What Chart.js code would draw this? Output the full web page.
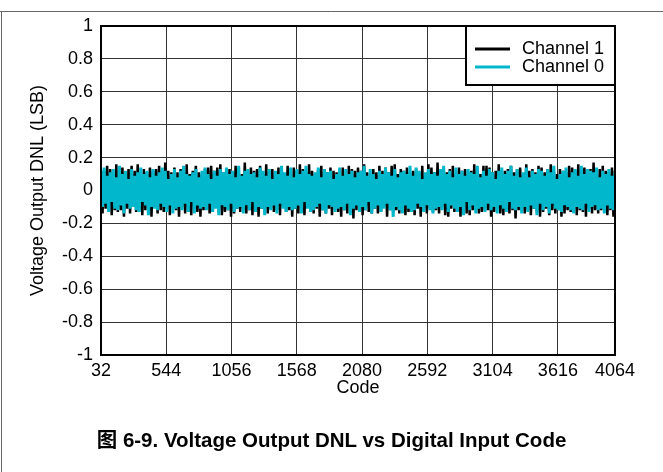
<!DOCTYPE html>
<html>
<head>
<meta charset="utf-8">
<script src="https://cdn.jsdelivr.net/npm/chart.js@4.4.0/dist/chart.umd.min.js"></script>
<style>
html,body{margin:0;padding:0;background:#fff}
#wrap{position:relative;width:663px;height:472px;overflow:hidden}
#c{position:absolute;left:0;top:0}
#caption{position:absolute;left:0;width:663px;top:423px;line-height:24px;text-align:center;font:bold 20.5px "Liberation Sans",Arial,"Noto Sans CJK SC",sans-serif;color:#000}
</style>
</head>
<body>
<div id="wrap">
<canvas id="c" width="663" height="472"></canvas>
<div id="caption">图 6-9. Voltage Output DNL vs Digital Input Code</div>
</div>
<script>
// x ticks / y ticks
const xTicks=[32,544,1056,1568,2080,2592,3104,3616,4064];
const yTicks=[-1,-0.8,-0.6,-0.4,-0.2,0,0.2,0.4,0.6,0.8,1];
const yTickLabels=['-1','-0.8','-0.6','-0.4','-0.2','0','0.2','0.4','0.6','0.8','1'];
const seriesNames=['Channel 1','Channel 0'];
const codeStart=32, codeStep=12;
// DNL, one sample every 12 codes
const ch1=[0.10,-0.14,0.12,-0.11,0.15,-0.10,0.13,-0.15,0.09,-0.12,0.16,-0.13,
0.11,-0.12,0.14,-0.16,0.10,-0.11,0.13,-0.14,0.15,-0.10,0.12,-0.13,
0.16,-0.11,0.09,-0.15,0.13,-0.12,0.11,-0.10,0.14,-0.16,0.12,-0.09,
0.13,-0.14,0.15,-0.12,0.10,-0.13,0.17,-0.11,0.12,-0.15,0.11,-0.10,
0.14,-0.12,0.11,-0.16,0.13,-0.10,0.12,-0.14,0.16,-0.13,0.10,-0.15,
0.12,-0.11,0.15,-0.13,0.11,-0.16,0.10,-0.12,0.13,-0.11,0.14,-0.14,
0.15,-0.13,0.12,-0.10,0.14,-0.12,0.16,-0.15,0.11,-0.13,0.09,-0.12,
0.13,-0.16,0.11,-0.14,0.15,-0.11,0.12,-0.13,0.10,-0.12,0.17,-0.14,
0.11,-0.12,0.14,-0.15,0.12,-0.10,0.13,-0.16,0.15,-0.11,0.10,-0.13,
0.16,-0.14,0.12,-0.11,0.13,-0.13,0.11,-0.12,0.14,-0.15,0.12,-0.10,
0.10,-0.13,0.15,-0.12,0.11,-0.16,0.14,-0.11,0.12,-0.14,0.16,-0.12,
0.13,-0.15,0.11,-0.10,0.16,-0.13,0.12,-0.14,0.10,-0.11,0.13,-0.16,
0.15,-0.12,0.13,-0.14,0.11,-0.11,0.14,-0.15,0.12,-0.10,0.11,-0.13,
0.12,-0.16,0.14,-0.12,0.10,-0.14,0.15,-0.11,0.13,-0.17,0.12,-0.12,
0.14,-0.11,0.12,-0.15,0.16,-0.12,0.11,-0.13,0.10,-0.14,0.13,-0.11,
0.11,-0.14,0.15,-0.13,0.12,-0.10,0.14,-0.16,0.11,-0.12,0.15,-0.13,
0.16,-0.12,0.10,-0.14,0.13,-0.11,0.12,-0.15,0.14,-0.13,0.11,-0.12,
0.12,-0.15,0.13,-0.11,0.11,-0.16,0.15,-0.12,0.10,-0.14,0.16,-0.11,
0.14,-0.13,0.11,-0.12,0.17,-0.14,0.12,-0.10,0.13,-0.15,0.11,-0.16,
0.13,-0.11,0.15,-0.13,0.10,-0.12,0.14,-0.16,0.12,-0.11,0.13,-0.14,
0.11,-0.15,0.12,-0.12,0.16,-0.11,0.13,-0.14,0.10,-0.13,0.15,-0.12,
0.15,-0.12,0.14,-0.16,0.11,-0.13,0.12,-0.11,0.16,-0.14,0.10,-0.15,
0.12,-0.11,0.13,-0.14,0.15,-0.12,0.11,-0.17,0.13,-0.12,0.14,-0.11,
0.10,-0.14,0.16,-0.12,0.12,-0.15,0.13,-0.11,0.11,-0.13,0.15,-0.16,
0.14,-0.13,0.11,-0.11,0.13,-0.15,0.16,-0.12,0.12,-0.14,0.10,-0.12,
0.13,-0.16,0.12,-0.14,0.11,-0.12,0.15,-0.13,0.14,-0.11,0.12,-0.15,
0.16,-0.12,0.10,-0.13,0.14,-0.16,0.12,-0.11,0.13,-0.14,0.17,-0.12,
0.11,-0.14,0.13,-0.12,0.15,-0.13,0.12,-0.15,0.11,-0.12,0.14,-0.16,
0.12];
const ch0=[0.12,-0.10,0.14,-0.08,0.09,-0.13,0.11,-0.07,0.13,-0.11,0.08,-0.12,
0.15,-0.09,0.10,-0.14,0.12,-0.08,0.07,-0.11,0.13,-0.10,0.09,-0.12,
0.11,-0.13,0.14,-0.07,0.10,-0.09,0.12,-0.15,0.08,-0.10,0.13,-0.11,
0.09,-0.12,0.11,-0.08,0.14,-0.10,0.12,-0.13,0.07,-0.09,0.10,-0.14,
0.13,-0.11,0.08,-0.10,0.12,-0.12,0.15,-0.08,0.10,-0.13,0.09,-0.07,
0.11,-0.14,0.13,-0.09,0.08,-0.11,0.12,-0.10,0.14,-0.12,0.10,-0.08,
0.07,-0.13,0.12,-0.11,0.09,-0.15,0.13,-0.09,0.11,-0.10,0.14,-0.12,
0.10,-0.08,0.12,-0.13,0.08,-0.11,0.15,-0.10,0.09,-0.14,0.12,-0.09,
0.13,-0.12,0.10,-0.07,0.11,-0.13,0.08,-0.10,0.14,-0.11,0.12,-0.15,
0.09,-0.10,0.13,-0.12,0.07,-0.09,0.12,-0.14,0.10,-0.08,0.15,-0.11,
0.11,-0.13,0.09,-0.10,0.14,-0.12,0.08,-0.11,0.13,-0.09,0.10,-0.14,
0.12,-0.07,0.15,-0.11,0.10,-0.13,0.09,-0.12,0.11,-0.10,0.14,-0.08,
0.08,-0.12,0.13,-0.14,0.11,-0.09,0.12,-0.10,0.07,-0.13,0.10,-0.11,
0.14,-0.10,0.09,-0.12,0.13,-0.08,0.10,-0.15,0.12,-0.11,0.08,-0.09,
0.11,-0.13,0.12,-0.10,0.15,-0.12,0.09,-0.07,0.13,-0.14,0.10,-0.11,
0.07,-0.09,0.12,-0.13,0.10,-0.11,0.14,-0.08,0.11,-0.12,0.09,-0.16,
0.13,-0.10,0.08,-0.12,0.11,-0.14,0.12,-0.09,0.10,-0.11,0.15,-0.13,
0.09,-0.12,0.14,-0.08,0.12,-0.10,0.07,-0.13,0.11,-0.09,0.13,-0.12,
0.10,-0.14,0.11,-0.11,0.09,-0.10,0.13,-0.12,0.15,-0.08,0.10,-0.13,
0.12,-0.09,0.08,-0.11,0.14,-0.13,0.10,-0.10,0.12,-0.15,0.09,-0.07,
0.13,-0.12,0.11,-0.09,0.10,-0.14,0.15,-0.11,0.08,-0.10,0.12,-0.13,
0.09,-0.08,0.13,-0.12,0.11,-0.10,0.07,-0.14,0.12,-0.09,0.14,-0.11,
0.10,-0.13,0.12,-0.07,0.15,-0.11,0.09,-0.12,0.13,-0.10,0.08,-0.14,
0.11,-0.10,0.14,-0.13,0.08,-0.09,0.12,-0.11,0.10,-0.15,0.13,-0.08,
0.12,-0.12,0.09,-0.10,0.13,-0.14,0.11,-0.08,0.15,-0.11,0.07,-0.12,
0.10,-0.13,0.12,-0.09,0.14,-0.10,0.08,-0.12,0.11,-0.14,0.13,-0.10,
0.09,-0.11,0.15,-0.12,0.10,-0.08,0.13,-0.13,0.12,-0.10,0.11,-0.09,
0.14,-0.12,0.08,-0.11,0.12,-0.14,0.10,-0.09,0.13,-0.11,0.09,-0.12,
0.11];
const colors=['#000000','#00b7cc'];
const widths=[2.5,3];

const FONT='"Liberation Sans", Arial, sans-serif';
const toPts=arr=>arr.map((v,i)=>({x:codeStart+i*codeStep,y:v}));

// page frame + legend box + plot border
const decor={
  id:'decor',
  beforeDraw(chart){
    const ctx=chart.ctx;
    ctx.save();
    ctx.strokeStyle='#666';ctx.lineWidth=1;
    ctx.beginPath();ctx.moveTo(0,11.5);ctx.lineTo(663,11.5);
    ctx.moveTo(1.5,11);ctx.lineTo(1.5,472);ctx.stroke();
    ctx.restore();
  },
  afterDraw(chart){
    const ctx=chart.ctx,a=chart.chartArea;
    ctx.save();
    // legend
    const lx=466,ly=a.top,lw=a.right-466,lh=59;
    ctx.fillStyle='#fff';ctx.fillRect(lx,ly,lw,lh);
    ctx.strokeStyle='#000';ctx.lineWidth=2;ctx.strokeRect(lx,ly,lw,lh);
    ctx.font='18px '+FONT;ctx.textBaseline='middle';ctx.textAlign='left';
    seriesNames.forEach((n,i)=>{
      const y=ly+23+i*18;
      ctx.strokeStyle=colors[i];ctx.lineWidth=3;
      ctx.beginPath();ctx.moveTo(lx+9,y);ctx.lineTo(lx+44,y);ctx.stroke();
      ctx.fillStyle='#000';ctx.fillText(n,lx+56,y);
    });
    // plot border
    ctx.strokeStyle='#000';ctx.lineWidth=2;
    ctx.strokeRect(a.left,a.top,a.right-a.left,a.bottom-a.top);
    ctx.restore();
  }
};

new Chart(document.getElementById('c'),{
  type:'line',
  data:{datasets:[
    {label:seriesNames[0],data:toPts(ch1),borderColor:colors[0],borderWidth:widths[0],pointRadius:0,tension:0,order:2},
    {label:seriesNames[1],data:toPts(ch0),borderColor:colors[1],borderWidth:widths[1],pointRadius:0,tension:0,order:1}
  ]},
  options:{
    responsive:false,animation:false,devicePixelRatio:1,
    layout:{padding:{left:0,top:26,right:48,bottom:57}},
    plugins:{legend:{display:false},tooltip:{enabled:false}},
    scales:{
      x:{type:'linear',min:32,max:4064,
        afterBuildTicks:s=>{s.ticks=xTicks.map(v=>({value:v}))},
        afterFit:s=>{s.height=60},
        grid:{color:'#333',lineWidth:1,drawTicks:false},
        border:{display:false},
        ticks:{color:'#000',padding:5,maxRotation:0,autoSkip:false,font:{family:FONT,size:18},callback:v=>String(v)},
        title:{display:true,text:'Code',color:'#000',font:{family:FONT,size:18},padding:{top:0,bottom:16}}
      },
      y:{min:-1,max:1,
        afterBuildTicks:s=>{s.ticks=yTicks.map(v=>({value:v}))},
        afterFit:s=>{s.width=101},
        grid:{color:'#333',lineWidth:1,drawTicks:false},
        border:{display:false},
        ticks:{color:'#000',padding:8,autoSkip:false,font:{family:FONT,size:18},
          callback:(v,i)=>yTickLabels[i]},
        title:{display:true,text:'Voltage Output DNL (LSB)',color:'#000',font:{family:FONT,size:18},padding:{top:27,bottom:0}}
      }
    }
  },
  plugins:[decor]
});
</script>
</body>
</html>
